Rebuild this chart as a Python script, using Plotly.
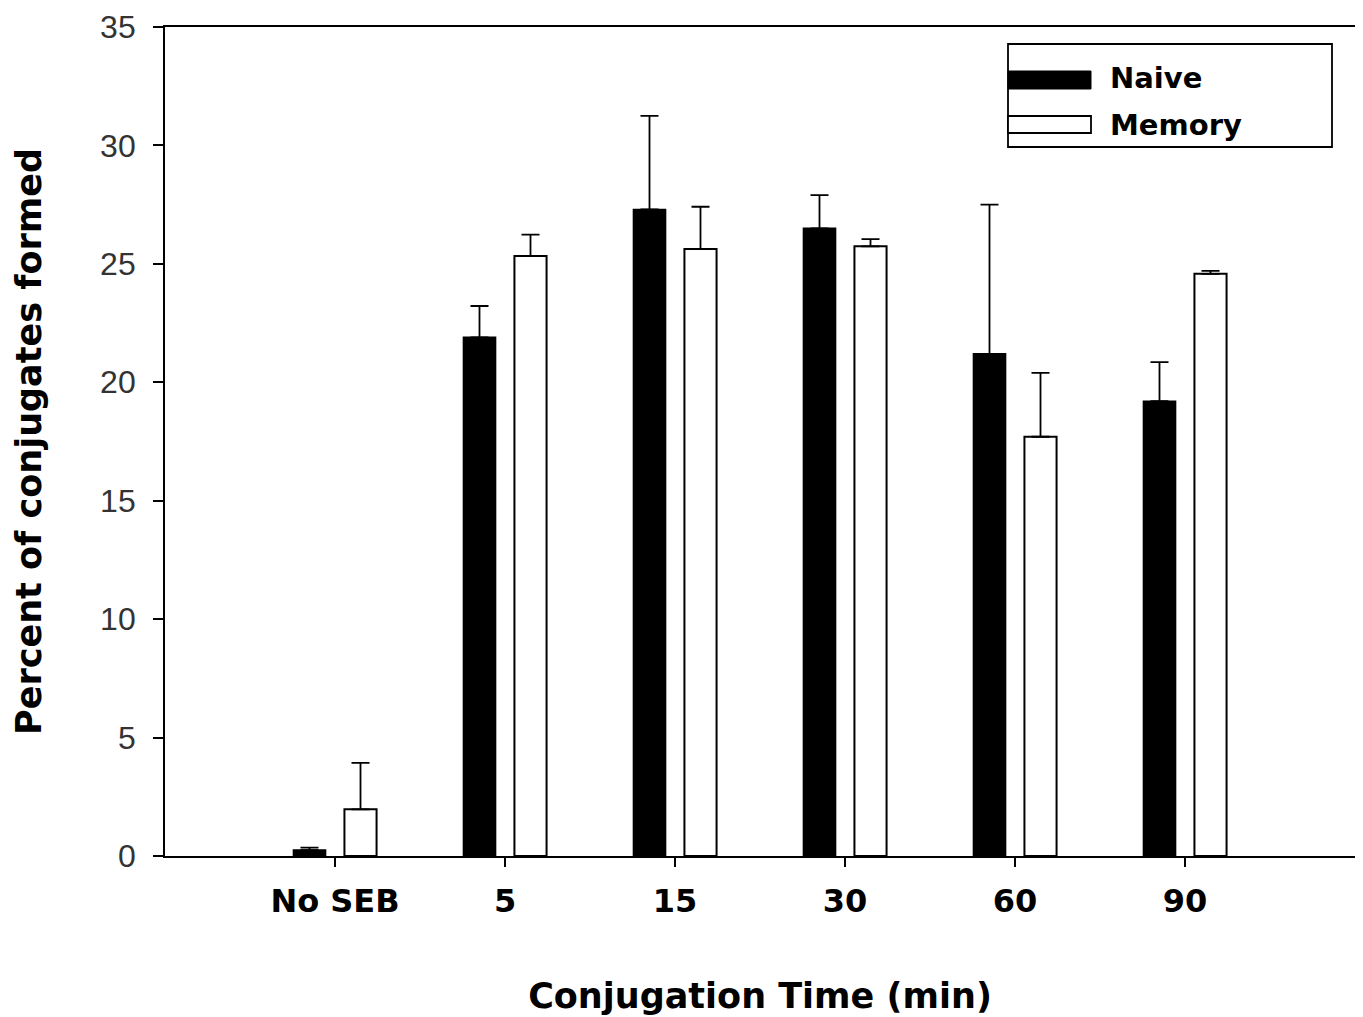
import plotly.graph_objects as go

categories = ["No SEB", "5", "15", "30", "60", "90"]
naive = [0.25, 21.9, 27.3, 26.5, 21.2, 19.2]
naive_err = [0.1, 1.32, 3.95, 1.4, 6.3, 1.65]
memory = [1.97, 25.33, 25.63, 25.74, 17.7, 24.58]
memory_err = [1.96, 0.9, 1.78, 0.3, 2.7, 0.12]
y_ticks = [0, 5, 10, 15, 20, 25, 30, 35]

O = 8  # page body offset
W, H = 1363 - O, 1017 - O
ML, MR, MT, MB = 165 - O, 8, 27 - O, 161
PW, PH = W - ML - MR, H - MT - MB

def px(x):
    return (x - O - ML) / PW

def py(y):
    return (H - MB - (y - O)) / PH

fig = go.Figure()
fig.add_trace(go.Bar(
    name="Naive", x=categories, y=naive,
    marker=dict(color="black", line=dict(color="black", width=1.5)),
    error_y=dict(type="data", array=naive_err, arrayminus=[0]*len(naive_err), symmetric=False,
                 color="black", thickness=1.8, width=9),
    showlegend=False,
))
fig.add_trace(go.Bar(
    name="Memory", x=categories, y=memory,
    marker=dict(color="white", line=dict(color="black", width=2)),
    error_y=dict(type="data", array=memory_err, arrayminus=[0]*len(memory_err), symmetric=False,
                 color="black", thickness=1.8, width=9),
    showlegend=False,
))

title_font = dict(family="DejaVu Sans", size=35, color="black", weight="bold")

fig.update_layout(
    width=W, height=H,
    margin=dict(l=ML, r=MR, t=MT, b=MB, pad=0, autoexpand=False),
    paper_bgcolor="white", plot_bgcolor="white",
    barmode="group", bargap=0.4, bargroupgap=0.37,
    xaxis=dict(
        type="category", range=[-1, 6], automargin=False,
        showline=True, linecolor="black", linewidth=1.8, mirror=True,
        ticks="outside", ticklen=9, tickwidth=1.8, tickcolor="black",
        showgrid=False, zeroline=False,
        tickfont=dict(family="DejaVu Sans", size=32, color="black", weight="bold"),
        ticklabelstandoff=7,
        title=dict(text="Conjugation Time (min)", font=title_font, standoff=64),
    ),
    yaxis=dict(
        range=[0, 35], tickvals=y_ticks, automargin=False,
        showline=True, linecolor="black", linewidth=1.8, mirror=True,
        ticks="outside", ticklen=10, tickwidth=1.8, tickcolor="black",
        showgrid=False, zeroline=False,
        tickfont=dict(family="Liberation Sans", size=32, color="#333333"),
        ticklabelstandoff=11,
        title=dict(text="Percent of conjugates formed", font=title_font, standoff=48),
    ),
)

# legend drawn as a boxed key
line = dict(color="black", width=1.8)
fig.add_shape(type="rect", xref="paper", yref="paper",
              x0=px(1008), x1=px(1332), y0=py(147), y1=py(44),
              line=line, fillcolor="white", layer="above")
fig.add_shape(type="rect", xref="paper", yref="paper",
              x0=px(1008), x1=px(1091), y0=py(89), y1=py(71),
              line=dict(color="black", width=1), fillcolor="black", layer="above")
fig.add_shape(type="rect", xref="paper", yref="paper",
              x0=px(1008), x1=px(1091), y0=py(133), y1=py(116),
              line=dict(color="black", width=1.8), fillcolor="white", layer="above")
legend_font = dict(family="DejaVu Sans", size=29, color="black", weight="bold")
fig.add_annotation(text="Naive", xref="paper", yref="paper", x=px(1108), y=py(78),
                   xanchor="left", yanchor="middle", showarrow=False, font=legend_font)
fig.add_annotation(text="Memory", xref="paper", yref="paper", x=px(1108), y=py(125),
                   xanchor="left", yanchor="middle", showarrow=False, font=legend_font)

fig.write_html("out.html")
